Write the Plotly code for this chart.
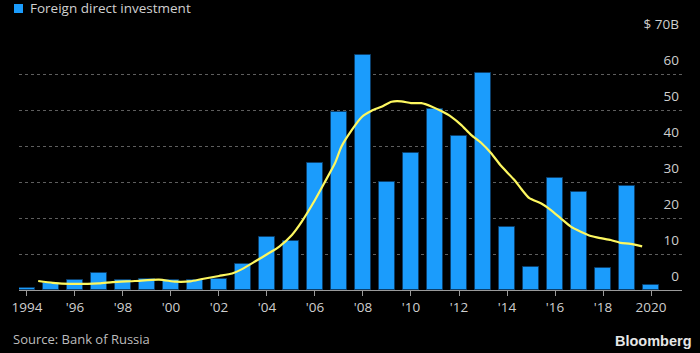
import plotly.graph_objects as go

years = list(range(1994, 2021))
fdi = [0.6, 2.0, 2.7, 4.7, 2.7, 3.0, 2.7, 2.8, 3.1, 7.3, 14.7, 13.6, 35.3, 49.4, 65.3,
       29.9, 38.0, 50.3, 42.8, 60.2, 17.5, 6.4, 31.0, 27.1, 6.1, 28.9, 1.3]

trend_x = [1994.47, 1995.08, 1995.77, 1997.0, 1997.57, 1998.5, 1999.5, 2000.2, 2000.8,
           2001.3, 2002.0, 2002.55, 2002.96, 2003.5, 2004.07, 2004.5, 2005.04, 2005.45,
           2006.0, 2006.42, 2006.83, 2007.1, 2007.53, 2007.94, 2008.36, 2008.77, 2009.19,
           2009.6, 2010.0, 2010.43, 2010.85, 2011.26, 2011.68, 2012.1, 2012.5, 2012.92,
           2013.34, 2013.75, 2014.3, 2014.58, 2014.93, 2015.41, 2015.83, 2016.24, 2016.66,
           2017.07, 2017.49, 2017.9, 2018.32, 2018.73, 2019.15, 2019.63]
trend_y = [2.5, 2.0, 1.7, 1.85, 2.2, 2.5, 2.9, 2.3, 2.4,
           3.05, 3.9, 4.6, 5.8, 7.9, 10.2, 12.0, 15.3, 19.0,
           25.0, 30.1, 35.2, 39.8, 44.4, 48.0, 49.8, 50.9, 52.3,
           52.4, 51.9, 51.9, 51.0, 49.7, 48.1, 45.8, 43.1, 40.9,
           38.0, 34.5, 30.6, 28.2, 25.5, 24.1, 22.2, 19.9, 17.6,
           16.2, 15.0, 14.4, 13.9, 13.1, 12.8, 12.1]

x_tickvals = list(range(1994, 2021, 2))
x_ticktext = ["1994", "'96", "'98", "'00", "'02", "'04", "'06", "'08", "'10",
              "'12", "'14", "'16", "'18", "2020"]
y_tickvals = [0, 10, 20, 30, 40, 50, 60, 70]
y_ticktext = ["0", "10", "20", "30", "40", "50", "60", "$ 70B"]

FONT = "Open Sans"
BLUE = "#1b9cfc"

fig = go.Figure()
fig.add_trace(go.Bar(
    x=years, y=fdi, width=0.66,
    marker=dict(color=BLUE, line=dict(color="#0b3f6b", width=1)),
    showlegend=False, hoverinfo="skip",
))
fig.add_trace(go.Scatter(
    x=trend_x, y=trend_y, mode="lines",
    line=dict(color="#fdf760", width=2.2, shape="spline", smoothing=0.6),
    showlegend=False, hoverinfo="skip",
))

fig.update_layout(
    width=700, height=353,
    paper_bgcolor="black", plot_bgcolor="black",
    margin=dict(l=16, r=18, t=38, b=63),
    bargap=0,
    xaxis=dict(
        range=[1993.67, 2021.29],
        tickvals=x_tickvals, ticktext=x_ticktext,
        showgrid=False, zeroline=False,
        showline=True, linecolor="#9a9a9a", linewidth=1,
        ticks="outside", ticklen=5, tickcolor="#9a9a9a", tickwidth=1,
        tickfont=dict(family=FONT, size=13.5, color="#cfcfcf"),
        fixedrange=True,
    ),
    yaxis=dict(
        range=[0, 70], side="right",
        tickvals=y_tickvals, ticktext=y_ticktext,
        ticklabelposition="inside top", ticklabeloverflow="allow",
        ticklabelshift=-4,
        showgrid=True, gridcolor="#5e5e5e", griddash="dot", gridwidth=1,
        zeroline=False, showline=False, ticks="",
        tickfont=dict(family=FONT, size=13.5, color="#cfcfcf"),
        fixedrange=True,
    ),
)

pw, ph = 666, 252
def px_x(x):
    return (x - 16) / pw
def px_y(y):
    return (290 - y) / ph

fig.add_shape(type="rect", xref="paper", yref="paper",
              x0=px_x(11), x1=px_x(20), y0=px_y(13), y1=px_y(4),
              fillcolor=BLUE, line=dict(width=0))
fig.add_annotation(xref="paper", yref="paper", x=px_x(25), y=px_y(8.5),
                   text="Foreign direct investment", showarrow=False,
                   xanchor="left", yanchor="middle",
                   font=dict(family=FONT, size=13.5, color="#d0d0d0"))
fig.add_annotation(xref="paper", yref="paper", x=px_x(8), y=px_y(339),
                   text="Source: Bank of Russia", showarrow=False,
                   xanchor="left", yanchor="middle",
                   font=dict(family=FONT, size=13, color="#bdbdbd"))
fig.add_annotation(xref="paper", yref="paper", x=px_x(694), y=px_y(341),
                   text="<b>Bloomberg</b>", showarrow=False,
                   xanchor="right", yanchor="middle",
                   font=dict(family="Liberation Sans", size=14.5, color="#e6e6e6"))

fig.write_html("out.html")
